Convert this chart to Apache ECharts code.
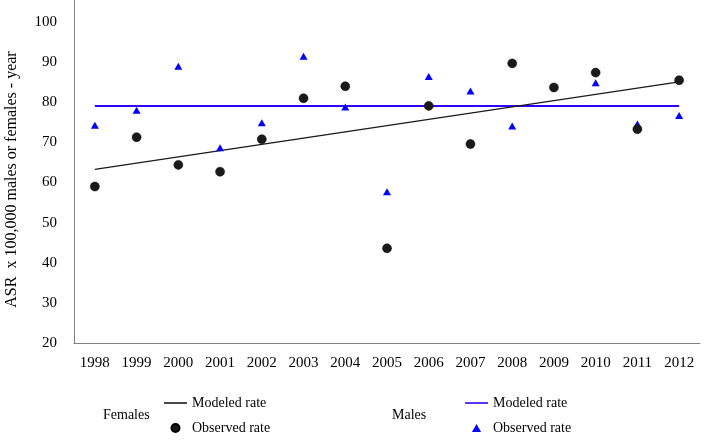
<!DOCTYPE html>
<html>
<head>
<meta charset="utf-8">
<script src="https://cdn.jsdelivr.net/npm/echarts@6/dist/echarts.min.js"></script>
<style>html,body{margin:0;padding:0;background:#fff;}#c{width:709px;height:440px;}</style>
</head>
<body>
<div id="c"></div>
<script>
var years = ['1998','1999','2000','2001','2002','2003','2004','2005','2006','2007','2008','2009','2010','2011','2012'];
var femalesObserved = [59.0, 71.3, 64.4, 62.7, 70.8, 81.0, 84.0, 43.6, 79.1, 69.6, 89.7, 83.7, 87.4, 73.3, 85.5];
var malesObserved = [74.3, 78.0, 89.0, 68.7, 74.9, 91.5, 78.8, 57.7, 86.4, 82.8, 74.1, null, 84.9, 74.6, 76.7];
var femalesModeled = [['1998', 63.3], ['2012', 85.1]];
var malesModeled = [['1998', 79.1], ['2012', 79.1]];
var yTicks = {min: 20, max: 105.5, interval: 10};

var FONT = '"Liberation Serif", "DejaVu Serif", serif';
var LINE_ICON = 'path://M0 0 L23 0 L23 1.6 L0 1.6 Z';
var TRI_ICON = 'path://M4 0 L8 7 L0 7 Z';
var nameMap = {'F-Modeled':'Modeled rate','F-Observed':'Observed rate','M-Modeled':'Modeled rate','M-Observed':'Observed rate'};
var chart = echarts.init(document.getElementById('c'));
function makeLegend(left, names, icons) {
  return {
    left: left, top: 396, orient: 'vertical', padding: 0, height: 44,
    itemWidth: 23, itemHeight: 8, itemGap: 11,
    textStyle: {fontFamily: FONT, fontSize: 14, color: '#000'},
    formatter: function(n){ return nameMap[n]; },
    selectedMode: false,
    data: [{name: names[0], icon: icons[0]}, {name: names[1], icon: icons[1]}]
  };
}
chart.setOption({
  animation: false,
  grid: {left: 74, right: 9, top: 0, bottom: 97, containLabel: false, outerBoundsMode: 'none'},
  xAxis: {
    type: 'category', data: years, boundaryGap: true,
    axisLine: {lineStyle: {color: '#808080', width: 1}},
    axisTick: {show: false},
    axisLabel: {fontFamily: FONT, fontSize: 15, color: '#000', margin: 13, interval: 0}
  },
  yAxis: {
    type: 'value', min: yTicks.min, max: yTicks.max, interval: yTicks.interval,
    name: 'ASR  x 100,000 males or females - year', nameLocation: 'middle', nameGap: 54,
    nameTextStyle: {fontFamily: FONT, fontSize: 16, color: '#000', padding: [0, 16, 0, 0]},
    axisLine: {show: true, lineStyle: {color: '#808080', width: 1}},
    axisTick: {show: false},
    splitLine: {show: false},
    axisLabel: {fontFamily: FONT, fontSize: 15, color: '#000', margin: 17, showMaxLabel: false}
  },
  legend: [
    makeLegend(164, ['F-Modeled','F-Observed'], [LINE_ICON, 'circle']),
    makeLegend(465, ['M-Modeled','M-Observed'], [LINE_ICON, TRI_ICON])
  ],
  graphic: [
    {type: 'text', left: 103, top: 408, style: {text: 'Females', font: '14px ' + FONT, fill: '#000'}},
    {type: 'text', left: 392, top: 408, style: {text: 'Males', font: '14px ' + FONT, fill: '#000'}}
  ],
  series: [
    {name: 'M-Modeled', type: 'line', data: malesModeled, symbol: 'none',
     lineStyle: {color: '#3300ff', width: 2}, itemStyle: {color: '#3300ff'}, z: 2},
    {name: 'F-Modeled', type: 'line', data: femalesModeled, symbol: 'none',
     lineStyle: {color: '#1a1a1a', width: 1.3}, itemStyle: {color: '#1a1a1a'}, z: 3},
    {name: 'M-Observed', type: 'scatter', data: malesObserved, symbol: 'triangle', symbolSize: [8, 7],
     itemStyle: {color: '#0000ff', opacity: 1}, z: 4},
    {name: 'F-Observed', type: 'scatter', data: femalesObserved, symbol: 'circle', symbolSize: 9,
     itemStyle: {color: '#1a1a1a', borderColor: '#000', borderWidth: 0.5, opacity: 1}, z: 5}
  ]
});
</script>
</body>
</html>
